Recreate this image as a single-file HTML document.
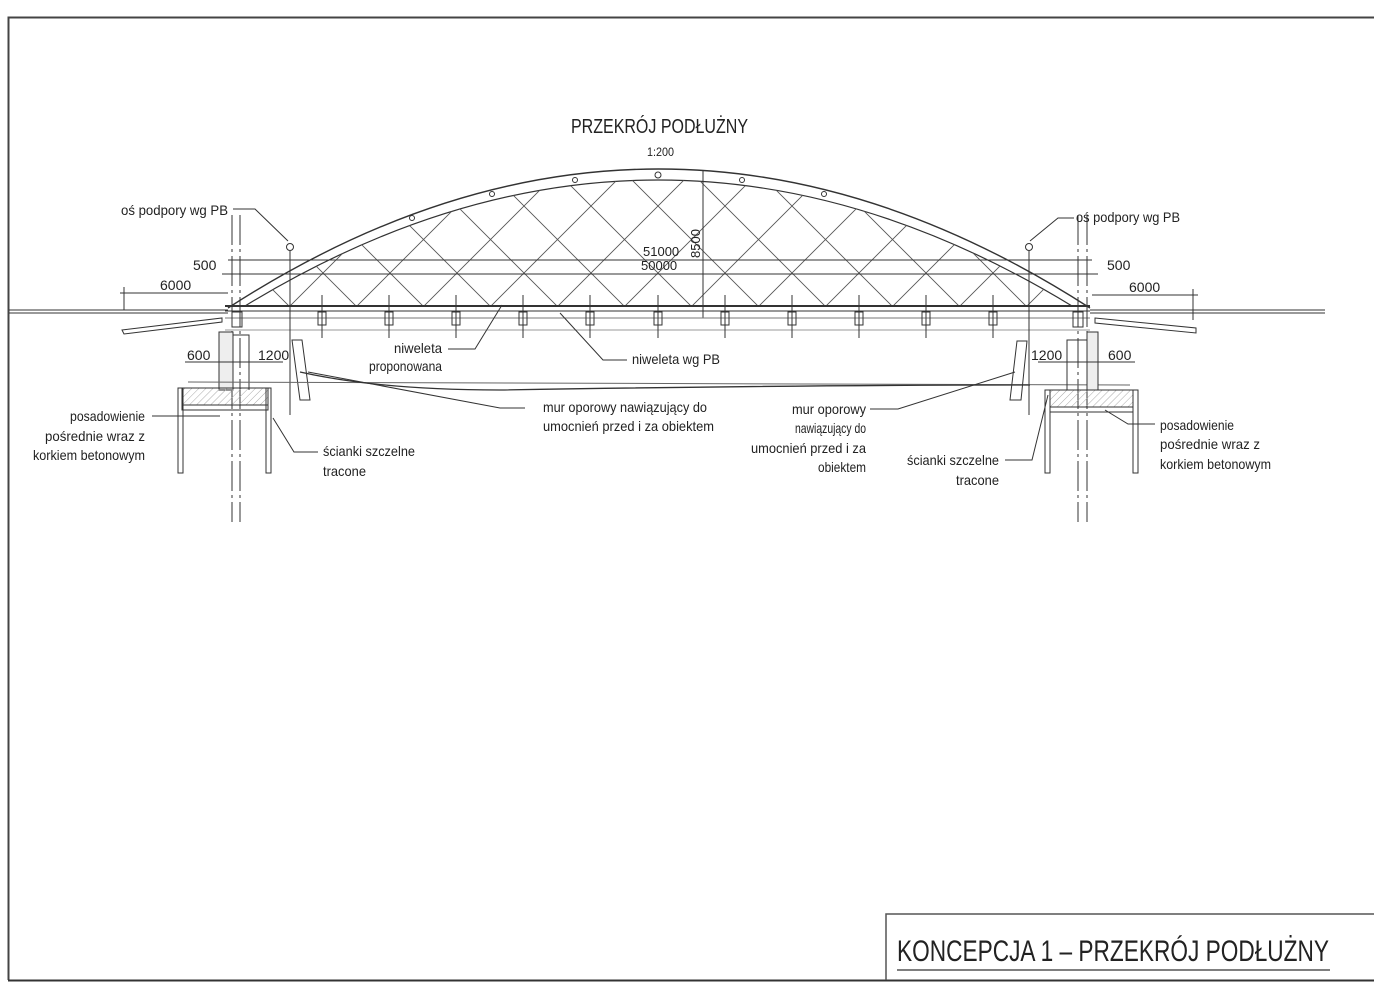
<!DOCTYPE html>
<html><head><meta charset="utf-8"><style>
html,body{margin:0;padding:0;background:#fff;}
svg{display:block;}
text{font-family:"Liberation Sans",sans-serif;fill:#222;}
.t{font-size:14px;}
</style></head><body>
<svg width="1374" height="995" viewBox="0 0 1374 995" xmlns="http://www.w3.org/2000/svg">
<defs>
<clipPath id="net"><path d="M245 306 Q658 54 1072 306 Z"/></clipPath>
<pattern id="hat" width="5" height="5" patternUnits="userSpaceOnUse" patternTransform="rotate(45)"><line x1="0" y1="0" x2="0" y2="5" stroke="#aaa" stroke-width="1"/></pattern>
</defs>
<path d="M8.5 980 V17.5 H1374" fill="none" stroke="#444" stroke-width="2"/>
<path d="M8 980.5 H1374" stroke="#333" stroke-width="2"/>
<path d="M886 980 V914 H1374" fill="none" stroke="#555" stroke-width="1.5"/>
<text x="897" y="961" font-size="30" textLength="432" lengthAdjust="spacingAndGlyphs">KONCEPCJA 1 – PRZEKRÓJ PODŁUŻNY</text>
<line x1="897" y1="970" x2="1330" y2="970" stroke="#555" stroke-width="1.5"/>

<text x="571" y="133" font-size="20" textLength="177" lengthAdjust="spacingAndGlyphs">PRZEKRÓJ PODŁUŻNY</text>
<text x="647" y="156" font-size="12" textLength="27" lengthAdjust="spacingAndGlyphs">1:200</text>

<g stroke="#333" fill="none" stroke-width="1">
<path d="M228 308 Q658 30 1090 308" stroke-width="1.4"/>
<path d="M245 306 Q658 54 1072 306" stroke-width="1.2"/>
<g clip-path="url(#net)" stroke="#555" stroke-width="0.9">
<line x1="-472" y1="-120" x2="128" y2="480"/><line x1="-405" y1="-120" x2="195" y2="480"/>
<line x1="-338" y1="-120" x2="262" y2="480"/><line x1="-271" y1="-120" x2="329" y2="480"/>
<line x1="-204" y1="-120" x2="396" y2="480"/><line x1="-137" y1="-120" x2="463" y2="480"/>
<line x1="-70" y1="-120" x2="530" y2="480"/><line x1="-3" y1="-120" x2="597" y2="480"/>
<line x1="64" y1="-120" x2="664" y2="480"/><line x1="131" y1="-120" x2="731" y2="480"/>
<line x1="198" y1="-120" x2="798" y2="480"/><line x1="265" y1="-120" x2="865" y2="480"/>
<line x1="332" y1="-120" x2="932" y2="480"/><line x1="399" y1="-120" x2="999" y2="480"/>
<line x1="466" y1="-120" x2="1066" y2="480"/><line x1="533" y1="-120" x2="1133" y2="480"/>
<line x1="600" y1="-120" x2="1200" y2="480"/><line x1="667" y1="-120" x2="1267" y2="480"/>
<line x1="734" y1="-120" x2="1334" y2="480"/><line x1="801" y1="-120" x2="1401" y2="480"/>
<line x1="868" y1="-120" x2="1468" y2="480"/><line x1="935" y1="-120" x2="1535" y2="480"/>
<line x1="1002" y1="-120" x2="1602" y2="480"/>
<line x1="1788" y1="-120" x2="1188" y2="480"/><line x1="1721" y1="-120" x2="1121" y2="480"/>
<line x1="1654" y1="-120" x2="1054" y2="480"/><line x1="1587" y1="-120" x2="987" y2="480"/>
<line x1="1520" y1="-120" x2="920" y2="480"/><line x1="1453" y1="-120" x2="853" y2="480"/>
<line x1="1386" y1="-120" x2="786" y2="480"/><line x1="1319" y1="-120" x2="719" y2="480"/>
<line x1="1252" y1="-120" x2="652" y2="480"/><line x1="1185" y1="-120" x2="585" y2="480"/>
<line x1="1118" y1="-120" x2="518" y2="480"/><line x1="1051" y1="-120" x2="451" y2="480"/>
<line x1="984" y1="-120" x2="384" y2="480"/><line x1="917" y1="-120" x2="317" y2="480"/>
<line x1="850" y1="-120" x2="250" y2="480"/><line x1="783" y1="-120" x2="183" y2="480"/>
<line x1="716" y1="-120" x2="116" y2="480"/><line x1="649" y1="-120" x2="49" y2="480"/>
<line x1="582" y1="-120" x2="-18" y2="480"/><line x1="515" y1="-120" x2="-85" y2="480"/>
<line x1="448" y1="-120" x2="-152" y2="480"/><line x1="381" y1="-120" x2="-219" y2="480"/>
<line x1="314" y1="-120" x2="-286" y2="480"/>
</g>
<line x1="228" y1="260" x2="1092" y2="260"/>
<line x1="222" y1="274" x2="1098" y2="274"/>
<line x1="703" y1="170" x2="703" y2="318"/>
<line x1="120" y1="293" x2="228" y2="293"/><line x1="124" y1="287" x2="124" y2="310"/>
<line x1="1092" y1="295" x2="1198" y2="295"/><line x1="1193" y1="289" x2="1193" y2="320"/>
<line x1="225" y1="306" x2="1090" y2="306" stroke-width="2"/>
<line x1="225" y1="311" x2="1090" y2="311"/>
<line x1="225" y1="318" x2="1090" y2="318" stroke="#777"/>
<line x1="225" y1="330" x2="1090" y2="330" stroke="#999"/>
<line x1="9" y1="310" x2="228" y2="310"/><line x1="9" y1="313" x2="228" y2="313"/>
<line x1="1090" y1="310" x2="1325" y2="310"/><line x1="1090" y1="313" x2="1325" y2="313"/>
<path d="M122 330 L222 318 L222 322 L124 334 Z"/>
<path d="M1095 318 L1196 328 L1196 333 L1095 323 Z"/>
<g>
<path d="M318 312 h8 v13 h-8 z"/><line x1="322" y1="295" x2="322" y2="338"/>
<path d="M385 312 h8 v13 h-8 z"/><line x1="389" y1="295" x2="389" y2="338"/>
<path d="M452 312 h8 v13 h-8 z"/><line x1="456" y1="295" x2="456" y2="338"/>
<path d="M519 312 h8 v13 h-8 z"/><line x1="523" y1="295" x2="523" y2="338"/>
<path d="M586 312 h8 v13 h-8 z"/><line x1="590" y1="295" x2="590" y2="338"/>
<path d="M654 312 h8 v13 h-8 z"/><line x1="658" y1="295" x2="658" y2="338"/>
<path d="M721 312 h8 v13 h-8 z"/><line x1="725" y1="295" x2="725" y2="338"/>
<path d="M788 312 h8 v13 h-8 z"/><line x1="792" y1="295" x2="792" y2="338"/>
<path d="M855 312 h8 v13 h-8 z"/><line x1="859" y1="295" x2="859" y2="338"/>
<path d="M922 312 h8 v13 h-8 z"/><line x1="926" y1="295" x2="926" y2="338"/>
<path d="M989 312 h8 v13 h-8 z"/><line x1="993" y1="295" x2="993" y2="338"/>
<path d="M232 312 h10 v15 h-10 z"/><path d="M1073 312 h10 v15 h-10 z"/>
</g>
<circle cx="658" cy="175" r="3"/><circle cx="575" cy="180" r="2.5"/><circle cx="742" cy="180" r="2.5"/>
<circle cx="492" cy="194" r="2.5"/><circle cx="824" cy="194" r="2.5"/><circle cx="412" cy="218" r="2.5"/>
<line x1="232" y1="215" x2="232" y2="522" stroke-dasharray="30 4 3 4"/>
<line x1="240" y1="215" x2="240" y2="522" stroke-dasharray="30 4 3 4"/>
<line x1="1078" y1="215" x2="1078" y2="522" stroke-dasharray="30 4 3 4"/>
<line x1="1087" y1="215" x2="1087" y2="522" stroke-dasharray="30 4 3 4"/>
<circle cx="290" cy="247" r="3.5"/><line x1="290" y1="251" x2="290" y2="415"/>
<circle cx="1029" cy="247" r="3.5"/><line x1="1029" y1="251" x2="1029" y2="415"/>
<path d="M219 332 H233 V390 H219 Z" fill="#eee"/>
<path d="M233 335 H249 V390"/>
<path d="M182 388 H268 V405 H182 Z" fill="url(#hat)"/>
<path d="M182 405 H268 V410 H182 Z"/>
<path d="M178 388 H183 V473 H178 Z"/><path d="M266 388 H271 V473 H266 Z"/>
<path d="M292 340 L302 340 L310 400 L300 400 Z"/>
<line x1="188" y1="382" x2="1130" y2="385" stroke="#666"/>
<path d="M1087 332 H1098 V390 H1087 Z" fill="#eee"/>
<path d="M1087 340 H1067 V390"/>
<path d="M1050 390 H1133 V407 H1050 Z" fill="url(#hat)"/>
<path d="M1050 407 H1133 V412 H1050 Z"/>
<path d="M1045 390 H1050 V473 H1045 Z"/><path d="M1133 390 H1138 V473 H1133 Z"/>
<path d="M1017 341 L1027 341 L1021 400 L1010 400 Z"/>
<path d="M300 372 Q380 390 500 390 Q800 385 1030 385" stroke="#333" stroke-width="1.3"/>
<path d="M233 209 H255 L288 241"/>
<path d="M1074 218 H1058 L1030 241"/>
<path d="M448 349 H475 L502 305"/>
<path d="M627 360 H603 L560 313"/>
<path d="M152 416 H220"/>
<path d="M273 418 L294 452 H318"/>
<path d="M308 372 L500 408 H525"/>
<path d="M870 409 H898 L1015 372"/>
<path d="M1005 460 H1032 L1048 395"/>
<path d="M1105 410 L1128 424 H1155"/>
<line x1="185" y1="362" x2="283" y2="362"/>
<line x1="1038" y1="362" x2="1135" y2="362"/>
</g>
<g class="t">
<text x="121" y="215" textLength="107" lengthAdjust="spacingAndGlyphs">oś podpory wg PB</text>
<text x="1076" y="222" textLength="104" lengthAdjust="spacingAndGlyphs">oś podpory wg PB</text>
<text x="193" y="270">500</text>
<text x="1107" y="270">500</text>
<text x="160" y="290">6000</text>
<text x="1129" y="292">6000</text>
<text x="643" y="256" font-size="13">51000</text>
<text x="641" y="270" font-size="13">50000</text>
<text x="700" y="258" font-size="13" transform="rotate(-90 700 258)">8500</text>
<text x="187" y="360">600</text>
<text x="258" y="360">1200</text>
<text x="1031" y="360">1200</text>
<text x="1108" y="360">600</text>
<text x="394" y="353" textLength="48" lengthAdjust="spacingAndGlyphs">niweleta</text>
<text x="369" y="371" textLength="73" lengthAdjust="spacingAndGlyphs">proponowana</text>
<text x="632" y="364" textLength="88" lengthAdjust="spacingAndGlyphs">niweleta wg PB</text>
<text x="70" y="421" textLength="75" lengthAdjust="spacingAndGlyphs">posadowienie</text>
<text x="45" y="441" textLength="100" lengthAdjust="spacingAndGlyphs">pośrednie wraz z</text>
<text x="33" y="460" textLength="112" lengthAdjust="spacingAndGlyphs">korkiem betonowym</text>
<text x="323" y="456" textLength="92" lengthAdjust="spacingAndGlyphs">ścianki szczelne</text>
<text x="323" y="476" textLength="43" lengthAdjust="spacingAndGlyphs">tracone</text>
<text x="543" y="412" textLength="164" lengthAdjust="spacingAndGlyphs">mur oporowy nawiązujący do</text>
<text x="543" y="431" textLength="171" lengthAdjust="spacingAndGlyphs">umocnień przed i za obiektem</text>
<text x="792" y="414" textLength="74" lengthAdjust="spacingAndGlyphs">mur oporowy</text>
<text x="795" y="433" textLength="71" lengthAdjust="spacingAndGlyphs">nawiązujący do</text>
<text x="751" y="453" textLength="115" lengthAdjust="spacingAndGlyphs">umocnień przed i za</text>
<text x="818" y="472" textLength="48" lengthAdjust="spacingAndGlyphs">obiektem</text>
<text x="907" y="465" textLength="92" lengthAdjust="spacingAndGlyphs">ścianki szczelne</text>
<text x="956" y="485" textLength="43" lengthAdjust="spacingAndGlyphs">tracone</text>
<text x="1160" y="430" textLength="74" lengthAdjust="spacingAndGlyphs">posadowienie</text>
<text x="1160" y="449" textLength="100" lengthAdjust="spacingAndGlyphs">pośrednie wraz z</text>
<text x="1160" y="469" textLength="111" lengthAdjust="spacingAndGlyphs">korkiem betonowym</text>
</g>
</svg>
</body></html>
